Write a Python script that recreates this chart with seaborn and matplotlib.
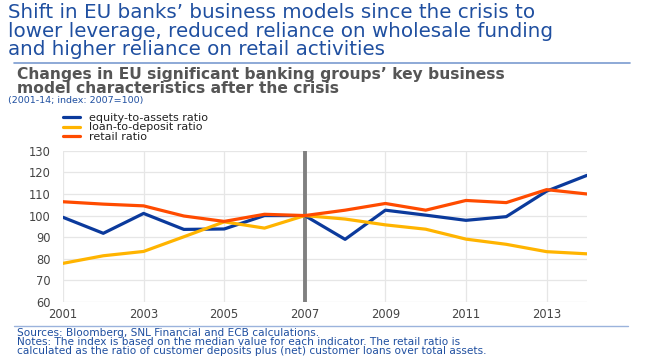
import numpy as np
import pandas as pd
import matplotlib
matplotlib.use("Agg")
import matplotlib.pyplot as plt
from matplotlib.lines import Line2D
import seaborn as sns

# data (index, 2007=100)
years = list(range(2001, 2015))
equity_to_assets = [99.2, 91.8, 101.0, 93.6, 93.8, 100.0, 100.0, 89.0, 102.5, 100.2, 97.8, 99.5, 111.3, 118.6]
loan_to_deposit = [77.9, 81.4, 83.4, 90.2, 97.1, 94.2, 100.0, 98.4, 95.7, 93.7, 89.1, 86.7, 83.3, 82.3]
retail_ratio = [106.4, 105.3, 104.5, 99.8, 97.3, 100.6, 100.0, 102.5, 105.6, 102.5, 107.0, 106.0, 112.0, 110.0]

series_names = ["equity-to-assets ratio", "loan-to-deposit ratio", "retail ratio"]
colors = ["#0b3a9c", "#ffb400", "#ff4b00"]

df = pd.DataFrame({
    "year": years * 3,
    "value": equity_to_assets + loan_to_deposit + retail_ratio,
    "series": [s for s in series_names for _ in years],
})

sns.set_style("white")
plt.rcParams["font.family"] = ["DejaVu Sans"]

fig = plt.figure(figsize=(6.46, 3.61), dpi=100)
ax = fig.add_axes([0.0975, 0.1634, 0.811, 0.419])

sns.lineplot(data=df, x="year", y="value", hue="series", palette=colors,
             linewidth=2.3, ax=ax, legend=False)

ax.axvline(2007, color="#808080", linewidth=2.8, zorder=1)

ax.set_xlim(2001, 2014)
ax.set_ylim(60, 130)
ax.set_xticks(range(2001, 2015, 2))
ax.set_yticks(range(60, 131, 10))
ax.grid(True, color="#e6e6e6", linewidth=0.9)
ax.set_axisbelow(True)
for sp in ax.spines.values():
    sp.set_visible(False)
ax.tick_params(axis="both", length=0, labelsize=8.3, colors="#444444")
ax.tick_params(axis="y", pad=9)
ax.tick_params(axis="x", pad=4)
ax.set_xlabel("")
ax.set_ylabel("")

# legend
handles = [Line2D([0], [0], color=c, linewidth=2.3) for c in colors]
fig.legend(handles, series_names, loc="upper left", bbox_to_anchor=(0.0975, 0.688),
           frameon=False, fontsize=8, handlelength=1.5, labelspacing=-0.02,
           handletextpad=0.8, borderpad=0, borderaxespad=0, labelcolor="#222222")

# titles and notes
blue = "#1f4fa0"
fig.text(0.012, 0.992, "Shift in EU banks’ business models since the crisis to\n"
         "lower leverage, reduced reliance on wholesale funding\n"
         "and higher reliance on retail activities",
         color=blue, fontsize=14.3, va="top", linespacing=0.98)
fig.add_artist(Line2D([0.022, 0.975], [0.826, 0.826], color="#7a9bd0", linewidth=1.2))
fig.text(0.027, 0.815, "Changes in EU significant banking groups’ key business\n"
         "model characteristics after the crisis",
         color="#555555", fontsize=11.2, fontweight="bold", va="top", linespacing=0.93)
fig.text(0.012, 0.733, "(2001-14; index: 2007=100)", color=blue, fontsize=6.8, va="top")
fig.add_artist(Line2D([0.022, 0.972], [0.097, 0.097], color="#9bb3dc", linewidth=1))
fig.text(0.027, 0.091, "Sources: Bloomberg, SNL Financial and ECB calculations.\n"
         "Notes: The index is based on the median value for each indicator. The retail ratio is\n"
         "calculated as the ratio of customer deposits plus (net) customer loans over total assets.",
         color=blue, fontsize=7.6, va="top", linespacing=0.88)

fig.savefig("out.png", dpi=100)
